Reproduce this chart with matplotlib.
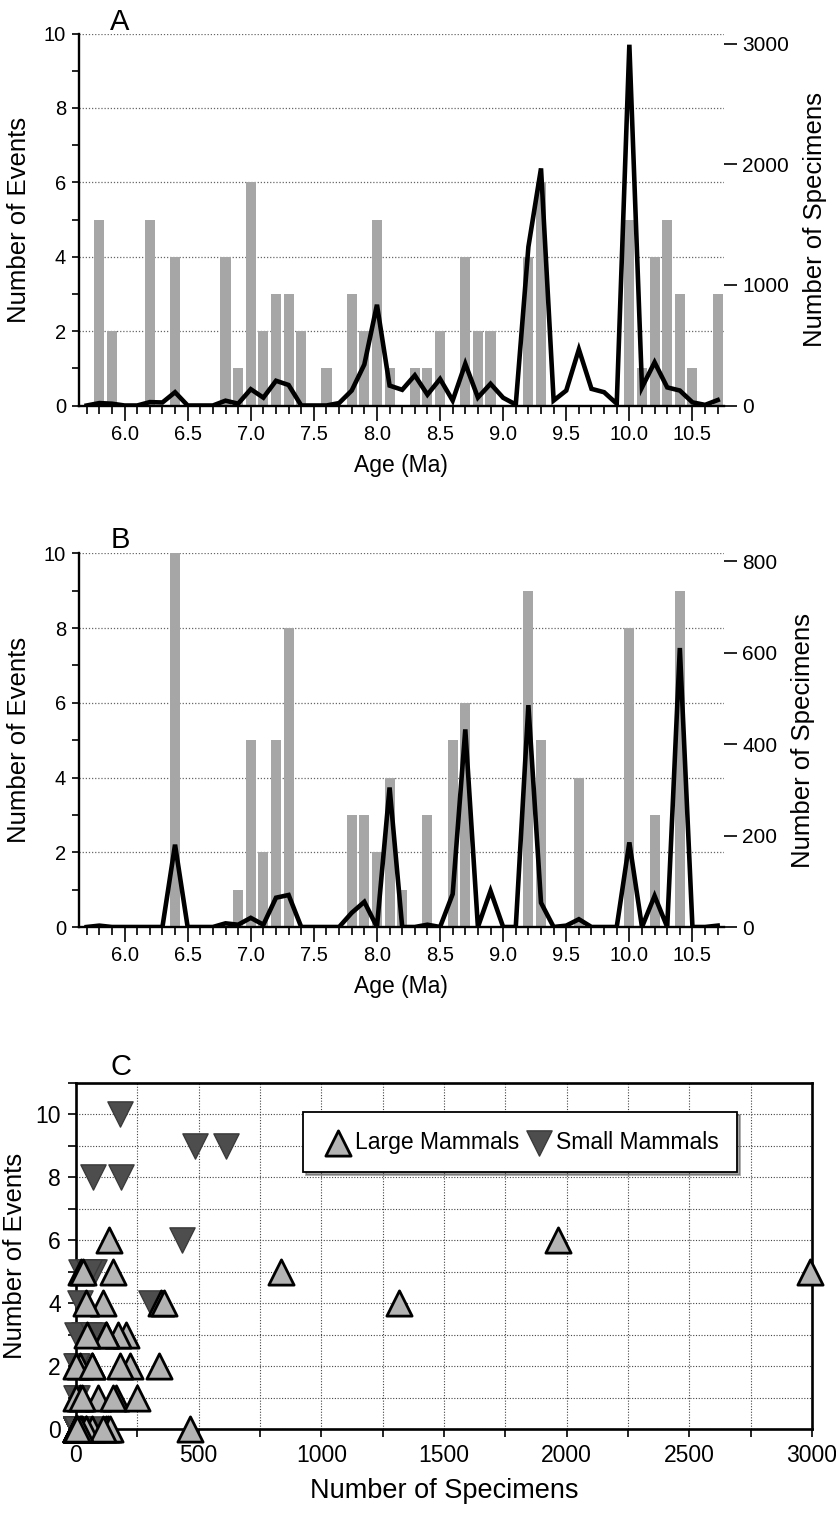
import numpy as np
import matplotlib
matplotlib.use("Agg")
import matplotlib.pyplot as plt
from matplotlib.ticker import MultipleLocator, FixedLocator

plt.rcParams['font.family'] = ['Liberation Sans', 'DejaVu Sans']

# time bins (Ma)
ages = [5.7, 5.8, 5.9, 6.0, 6.1, 6.2, 6.3, 6.4, 6.5, 6.6, 6.7, 6.8, 6.9,
        7.0, 7.1, 7.2, 7.3, 7.4, 7.5, 7.6, 7.7, 7.8, 7.9, 8.0, 8.1, 8.2,
        8.3, 8.4, 8.5, 8.6, 8.7, 8.8, 8.9, 9.0, 9.1, 9.2, 9.3, 9.4, 9.5,
        9.6, 9.7, 9.8, 9.9, 10.0, 10.1, 10.2, 10.3, 10.4, 10.5, 10.6, 10.7]

# large mammals: events per bin and specimens per bin
large_events = [0, 5, 2, 0, 0, 5, 0, 4, 0, 0, 0, 4, 1,
                6, 2, 3, 3, 2, 0, 1, 0, 3, 2, 5, 1, 0,
                1, 1, 2, 0, 4, 2, 2, 0, 0, 4, 6, 0, 0,
                0, 0, 0, 0, 5, 1, 4, 5, 3, 1, 0, 3]
large_specimens = [0, 20, 15, 0, 0, 28, 25, 110, 0, 0, 0, 40, 15,
                   135, 65, 205, 170, 0, 0, 0, 20, 124, 340, 835, 165, 130,
                   250, 90, 220, 41, 346, 66, 180, 64, 8, 1315, 1965, 41, 124,
                   465, 138, 110, 15, 2990, 150, 358, 150, 124, 26, 5, 45]

# small mammals
small_events = [0, 0, 0, 0, 0, 0, 0, 10, 0, 0, 0, 0, 1,
                5, 2, 5, 8, 0, 0, 0, 0, 3, 3, 2, 4, 1,
                0, 3, 0, 5, 6, 0, 0, 0, 0, 9, 5, 0, 0,
                4, 0, 0, 0, 8, 0, 3, 0, 9, 0, 0, 0]
small_specimens = [0, 3, 0, 0, 0, 0, 0, 180, 0, 0, 0, 8, 5,
                   20, 5, 64, 70, 0, 0, 0, 0, 31, 55, 0, 305, 0,
                   0, 5, 0, 72, 432, 0, 79, 0, 0, 485, 53, 0, 3,
                   17, 0, 0, 0, 185, 0, 68, 0, 610, 0, 0, 3]

age_ticks = [6.0, 6.5, 7.0, 7.5, 8.0, 8.5, 9.0, 9.5, 10.0, 10.5]

W, H = 836, 1514
fig = plt.figure(figsize=(W / 100, H / 100), dpi=100)


def rect(l, t, r, b):
    return [l / W, 1 - b / H, (r - l) / W, (b - t) / H]


BAR = '#a6a6a6'
DOTS = (0, (1, 1.5))


def time_panel(box, events, specimens, spec_top, spec_ticks):
    ax = fig.add_axes(box)
    ax.bar(ages, events, width=0.08, color=BAR, zorder=2)
    ax.set_xlim(5.635, 10.75)
    ax.set_ylim(0, 10)
    ax.set_axisbelow(True)
    ax.yaxis.grid(True, which='major', linestyle=DOTS, color='#666666', lw=0.9)
    ax.yaxis.set_major_locator(MultipleLocator(2))
    ax.yaxis.set_minor_locator(MultipleLocator(1))
    ax.xaxis.set_major_locator(FixedLocator(age_ticks))
    ax.xaxis.set_minor_locator(FixedLocator(ages))
    ax.set_xticklabels([f'{t:.1f}' for t in age_ticks])
    for s in ['top', 'right']:
        ax.spines[s].set_visible(False)
    for s in ['left', 'bottom']:
        ax.spines[s].set_linewidth(1.7)
    ax.tick_params(axis='y', which='both', direction='out', length=5, width=1.2,
                   labelsize=14.5, pad=4)
    ax.tick_params(axis='x', which='major', direction='out', length=11, width=1.2,
                   labelsize=14.5, pad=3)
    ax.tick_params(axis='x', which='minor', direction='out', length=6, width=1.2)
    ax.set_xlabel('Age (Ma)', fontsize=16.5, labelpad=7)
    ax.set_ylabel('Number of Events', fontsize=18.5, labelpad=9)

    ax2 = ax.twinx()
    ax2.plot(ages, specimens, color='black', lw=3.3, solid_joinstyle='miter', zorder=3)
    ax2.set_ylim(0, spec_top)
    ax2.set_yticks(spec_ticks)
    for s in ['top', 'right', 'left', 'bottom']:
        ax2.spines[s].set_visible(False)
    ax2.tick_params(axis='y', direction='out', length=9, width=1.2,
                    labelsize=15, pad=4)
    ax2.set_ylabel('Number of Specimens', fontsize=18.5, labelpad=10)
    return ax


axA = time_panel(rect(78.5, 33.5, 724, 405.5), large_events, large_specimens,
                 3083, [0, 1000, 2000, 3000])
axB = time_panel(rect(78.5, 553.3, 724, 927), small_events, small_specimens,
                 817, [0, 200, 400, 600, 800])

fig.text(120 / W, 1 - 22 / H, 'A', fontsize=21, ha='center', va='center')
fig.text(120 / W, 1 - 540 / H, 'B', fontsize=21, ha='center', va='center')
fig.text(121 / W, 1 - 1067 / H, 'C', fontsize=21, ha='center', va='center')

# panel C: events against specimens for each bin
axC = fig.add_axes(rect(76, 1083, 812, 1429))
axC.set_xlim(0, 3000)
axC.set_ylim(0, 11)
axC.xaxis.set_major_locator(MultipleLocator(500))
axC.xaxis.set_minor_locator(MultipleLocator(250))
axC.yaxis.set_major_locator(MultipleLocator(2))
axC.yaxis.set_minor_locator(MultipleLocator(1))
axC.grid(True, which='both', linestyle=DOTS, color='#444444', lw=0.8)
axC.set_axisbelow(True)
for s in axC.spines.values():
    s.set_linewidth(1.9)
axC.tick_params(which='both', direction='out', length=6, width=1.2,
                labelsize=16.5, pad=5)
axC.set_xlabel('Number of Specimens', fontsize=19.5, labelpad=8)
axC.set_ylabel('Number of Events', fontsize=18.5, labelpad=6)

sm = axC.scatter(small_specimens, small_events, marker='v', s=330,
                 facecolor='#4d4d4d', edgecolor='#3a3a3a', linewidth=1.0,
                 clip_on=False, zorder=4, label='Small Mammals')
lg = axC.scatter(large_specimens, large_events, marker='^', s=330,
                 facecolor='#b3b3b3', edgecolor='black', linewidth=2.0,
                 clip_on=False, zorder=5, label='Large Mammals')

leg = axC.legend(handles=[lg, sm], loc='upper left', bbox_to_anchor=(0.309, 0.915),
                 ncol=2, frameon=True, fancybox=False, shadow=True, fontsize=16.5,
                 handletextpad=0.05, columnspacing=0.15, borderpad=0.8,
                 handlelength=1.4, borderaxespad=0)
leg.get_frame().set_edgecolor('black')
leg.get_frame().set_linewidth(1.3)
leg.set_zorder(6)

fig.savefig('out.png', dpi=100)
